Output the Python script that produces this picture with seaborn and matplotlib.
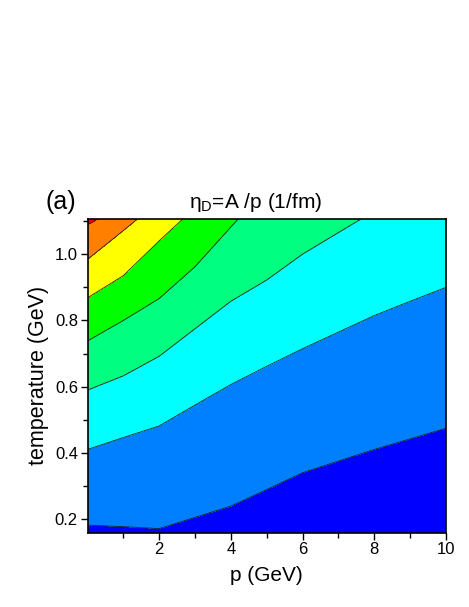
import numpy as np
import matplotlib
matplotlib.use("Agg")
import matplotlib.pyplot as plt
import seaborn as sns


sns.set_theme(style="white")
plt.rcParams['font.family'] = ['Liberation Sans', 'DejaVu Sans']
plt.rcParams['mathtext.fontset'] = 'custom'
plt.rcParams['mathtext.rm'] = 'Liberation Sans'
plt.rcParams['mathtext.it'] = 'Liberation Sans:italic'

# momentum nodes (GeV) of the contour lines
p_nodes = [0, 1, 2, 3, 4, 5, 6, 7, 8, 9, 10]

# temperature (GeV) of each contour boundary at the p nodes
b1 = [0.183, 0.178, 0.172, 0.206, 0.240, 0.290, 0.341, 0.376, 0.411, 0.443, 0.475]
b2 = [0.411, 0.447, 0.482, 0.545, 0.607, 0.662, 0.715, 0.765, 0.815, 0.858, 0.900]
b3 = [0.590, 0.633, 0.692, 0.775, 0.858, 0.922, 1.000, 1.065, 1.130, 1.190, 1.250]
b4 = [0.738, 0.800, 0.866, 0.962, 1.082, 1.200, 1.320, 1.440, 1.560, 1.680, 1.800]
b5 = [0.868, 0.935, 1.040, 1.140, 1.260, 1.380, 1.500, 1.620, 1.740, 1.860, 1.980]
b6 = [0.984, 1.071, 1.160, 1.260, 1.380, 1.500, 1.620, 1.740, 1.860, 1.980, 2.100]
b7 = [1.087, 1.150, 1.240, 1.340, 1.460, 1.580, 1.700, 1.820, 1.940, 2.060, 2.180]

levels = [0, 1, 2, 3, 4, 5, 6, 7, 8]
band_colors = ['#0000ff', '#0080ff', '#00ffff', '#00ff80',
               '#00ff00', '#ffff00', '#ff8000', '#ff0000']

# build the gridded field that contourf needs from the boundaries
bounds = [b1, b2, b3, b4, b5, b6, b7]
p_grid = np.linspace(0, 10, 401)
T_grid = np.linspace(0.1, 1.2, 441)
Z = np.empty((len(T_grid), len(p_grid)))
for j, p in enumerate(p_grid):
    col = [np.interp(p, p_nodes, b) for b in bounds]
    Z[:, j] = np.interp(T_grid, [0.0] + col + [5.0], levels)

fig = plt.figure(figsize=(4.69, 6.07), dpi=100)
ax = fig.add_axes([0.187, 0.1224, 0.764, 0.5173])

ax.contourf(p_grid, T_grid, Z, levels=levels, colors=band_colors)
ax.contour(p_grid, T_grid, Z, levels=levels[1:-1], colors='#202020', linewidths=0.6)

ax.set_xlim(0.01, 10)
ax.set_ylim(0.16, 1.107)
ax.set_xticks([2, 4, 6, 8, 10])
ax.set_xticks([1, 3, 5, 7, 9], minor=True)
ax.set_yticks([0.2, 0.4, 0.6, 0.8, 1.0])
ax.set_yticklabels(['0.2', '0.4', '0.6', '0.8', '1.0'])
ax.set_yticks([0.3, 0.5, 0.7, 0.9, 1.1], minor=True)
ax.tick_params(which='both', direction='out', bottom=True, left=True,
               top=False, right=False, color='black', width=1.0)
ax.tick_params(which='major', length=5, labelsize=12, pad=2, labelcolor='black')
ax.tick_params(which='minor', length=3.5)
for s in ax.spines.values():
    s.set_color('black')
    s.set_linewidth(1.2)

ax.set_xlabel('p (GeV)', fontsize=15, color='black', labelpad=6)
ax.set_ylabel('temperature (GeV)', fontsize=15.5, color='black', labelpad=4)

fig.text(256 / 469, 1 - 202 / 607, r'η$_\mathrm{D}$=A /p (1/fm)', fontsize=15,
         ha='center', va='center', color='black')
fig.text(45 / 469, 1 - 202 / 607, '(a)', fontsize=18, ha='left', va='center', color='black')

fig.savefig('out.png', dpi=100)
